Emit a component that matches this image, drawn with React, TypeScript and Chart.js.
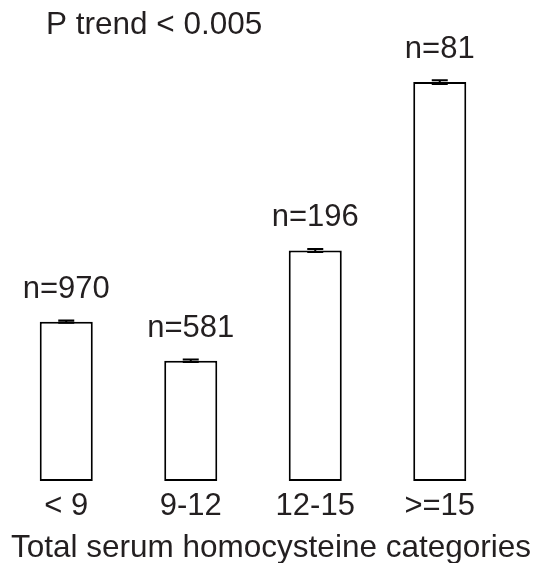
import React, { useEffect, useRef } from "react";
import { Chart, registerables } from "chart.js";

Chart.register(...registerables);

const categories = ["< 9", "9-12", "12-15", ">=15"];
const values = [1.59, 1.2, 2.3, 3.98];
const errors = [0.012, 0.012, 0.015, 0.018];
const counts = ["n=970", "n=581", "n=196", "n=81"];
const trendLabel = "P trend < 0.005";
const xTitle = "Total serum homocysteine categories";

const FONT = "'Liberation Sans', Arial, Helvetica, sans-serif";
const TEXT = "#231f20";

const annotate = {
  id: "annotate",
  afterDatasetsDraw(chart: any) {
    const ctx = chart.ctx;
    const meta = chart.getDatasetMeta(0);
    const y = chart.scales.y;
    ctx.save();
    ctx.strokeStyle = "#000";
    ctx.lineWidth = 2;
    meta.data.forEach((bar: any, i: number) => {
      const x = bar.x;
      const hi = y.getPixelForValue(values[i] + errors[i]);
      const lo = y.getPixelForValue(values[i] - errors[i]);
      const half = 8;
      ctx.beginPath();
      ctx.moveTo(x, hi);
      ctx.lineTo(x, lo);
      ctx.moveTo(x - half, hi);
      ctx.lineTo(x + half, hi);
      ctx.moveTo(x - half, lo);
      ctx.lineTo(x + half, lo);
      ctx.stroke();
    });
    ctx.fillStyle = TEXT;
    ctx.textBaseline = "alphabetic";
    ctx.font = `31px ${FONT}`;
    ctx.textAlign = "center";
    meta.data.forEach((bar: any, i: number) => {
      ctx.fillText(counts[i], bar.x, y.getPixelForValue(values[i]) - 24);
    });
    ctx.font = `31.5px ${FONT}`;
    ctx.textAlign = "left";
    ctx.fillText(trendLabel, 46, 34);
    ctx.textAlign = "center";
    ctx.fillText(xTitle, 271, 556.5);
    ctx.restore();
  },
};

export default function App() {
  const ref = useRef<HTMLCanvasElement>(null);
  useEffect(() => {
    if (!ref.current) return;
    const chart = new Chart(ref.current, {
      type: "bar",
      data: {
        labels: categories,
        datasets: [
          {
            data: values,
            backgroundColor: "#ffffff",
            borderColor: "#000000",
            borderWidth: 2,
            borderSkipped: false,
            categoryPercentage: 1,
            barPercentage: 0.426,
          },
        ],
      },
      options: {
        responsive: false,
        animation: false,
        devicePixelRatio: 1,
        layout: { padding: { left: 4, right: 37, top: 40, bottom: 30.8 } },
        plugins: {
          legend: { display: false },
          tooltip: { enabled: false },
        },
        scales: {
          y: { display: false, min: 0, max: 4.4 },
          x: {
            grid: { display: false, drawTicks: false },
            border: { display: false },
            ticks: {
              color: TEXT,
              padding: 7,
              font: { family: FONT, size: 31 },
            },
          },
        },
      },
      plugins: [annotate],
    });
    return () => chart.destroy();
  }, []);
  return (
    <div style={{ position: "fixed", left: 0, top: 0, width: 539, height: 563, background: "#fff" }}>
      <canvas ref={ref} width={539} height={563} />
    </div>
  );
}
